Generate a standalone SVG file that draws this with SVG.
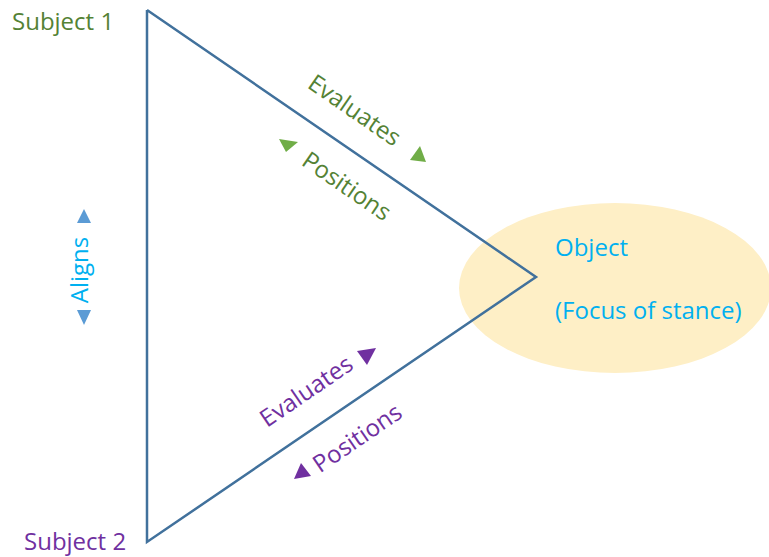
<svg xmlns="http://www.w3.org/2000/svg" width="769" height="557" viewBox="0 0 769 557">
  <style>
    text { font-family: "Open Sans", "Noto Sans", "Liberation Sans", sans-serif; font-size: 24px; }
    .green { fill: #548235; }
    .purple { fill: #7030A0; }
    .sky { fill: #00B0F0; }
    .edge { fill: none; stroke: #41719C; stroke-width: 2.5; stroke-linejoin: miter; }
  </style>

  <!-- object of stance -->
  <g id="object">
    <ellipse cx="615" cy="288" rx="156" ry="85" fill="#FEEFC6"/>
    <text class="sky" x="555" y="256">Object</text>
    <text class="sky" x="555" y="319">(Focus of stance)</text>
  </g>

  <!-- stance triangle edges -->
  <g id="connectors">
    <polyline class="edge" points="147,10 536,277 147,542 147,10"/>
  </g>

  <g id="subject1">
    <text class="green" x="12" y="30">Subject 1</text>
  </g>

  <g id="subject2">
    <text class="purple" x="24" y="550">Subject 2</text>
  </g>

  <!-- labels along Subject 1 edge -->
  <g id="s1-labels">
    <text class="green" text-anchor="middle" transform="translate(350,117) rotate(34.5)">Evaluates</text>
    <polygon fill="#70AD47" points="420,146 410,160 426,162"/>
    <text class="green" text-anchor="middle" transform="translate(342,193) rotate(34.5)">Positions</text>
    <polygon fill="#70AD47" points="279,139 298,142 286,152"/>
  </g>

  <!-- labels along Subject 2 edge -->
  <g id="s2-labels">
    <text class="purple" text-anchor="middle" transform="translate(311,398) rotate(-34.3)">Evaluates</text>
    <polygon fill="#7030A0" points="357,351 376,348 367,365"/>
    <text class="purple" text-anchor="middle" transform="translate(362,445) rotate(-34.3)">Positions</text>
    <polygon fill="#7030A0" points="301,463 294,479 311,476"/>
  </g>

  <!-- alignment between subjects -->
  <g id="aligns">
    <text class="sky" text-anchor="middle" transform="translate(88,270) rotate(-90)">Aligns</text>
    <polygon fill="#5B9BD5" points="84,209 77,223 91,223"/>
    <polygon fill="#5B9BD5" points="77,310 91,310 84,325"/>
  </g>
</svg>
